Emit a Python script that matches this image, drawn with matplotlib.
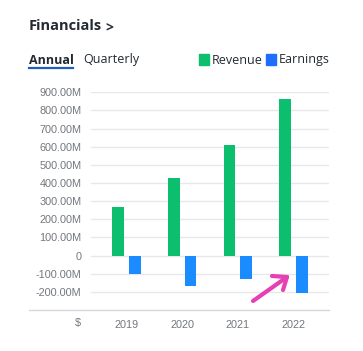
import matplotlib.pyplot as plt
from matplotlib.lines import Line2D
from matplotlib.patches import Rectangle
import numpy as np

W, H = 363, 351

years = ["2019", "2020", "2021", "2022"]
revenue = [270, 426, 608, 863]       # millions
earnings = [-102, -169, -130, -205]  # millions
yticks = [-200, -100, 0, 100, 200, 300, 400, 500, 600, 700, 800, 900]

GREEN = "#0bbf6e"
BLUE = "#1a8cff"
GRID = "#e6e8ec"
TXT = "#232a31"
GREY = "#72777d"

plt.rcParams["font.family"] = ["Open Sans", "DejaVu Sans"]

fig = plt.figure(figsize=(W / 100, H / 100), dpi=100)

def fx(px):
    return px / W

def fy(py):
    return 1 - py / H

ax = fig.add_axes([fx(91), fy(310), fx(329) - fx(91), fy(92.3) - fy(310)])
x = np.arange(len(years))
bw = 0.21
ax.bar(x - 0.15, revenue, width=bw, color=GREEN, zorder=3)
ax.bar(x + 0.15, earnings, width=bw, color=BLUE, zorder=3)
ax.set_xlim(-0.64, 3.64)
ax.set_ylim(-300, 900)
for v in yticks:
    ax.axhline(v, color=GRID, linewidth=1, zorder=1)
ax.set_yticks(yticks)
ax.set_yticklabels(["0" if v == 0 else f"{v:.2f}M" for v in yticks])
ax.set_xticks(x)
ax.set_xticklabels(years)
ax.tick_params(axis="both", length=0, labelsize=7.8, labelcolor=GREY)
ax.tick_params(axis="y", pad=7)
ax.tick_params(axis="x", pad=7)
for lbl in ax.get_xticklabels() + ax.get_yticklabels():
    lbl.set_family("Liberation Sans")
for s in ax.spines.values():
    s.set_visible(False)

# bottom axis line spanning under the labels
fig.add_artist(Line2D([fx(29), fx(329)], [fy(310), fy(310)], color="#d5d8dd", linewidth=1))
fig.text(fx(78), fy(323), "$", ha="center", va="center", fontsize=7.8, color=GREY,
         family="Liberation Sans")

# header
fig.text(fx(29), fy(26), "Financials", ha="left", va="center", fontsize=10.5,
         fontweight="bold", color=TXT)
fig.text(fx(105), fy(27), ">", ha="left", va="center", fontsize=10,
         fontweight="bold", color=TXT)
fig.text(fx(29), fy(60), "Annual", ha="left", va="center", fontsize=9,
         fontweight="bold", color=TXT)
fig.add_artist(Line2D([fx(29), fx(73)], [fy(68), fy(68)], color="#1d5fbf", linewidth=1.6))
fig.text(fx(83), fy(60), "Quarterly", ha="left", va="center", fontsize=9, color=TXT)

# legend
fig.add_artist(Rectangle((fx(199), fy(64.5)), fx(10), fy(54) - fy(64.5), color=GREEN,
                         transform=fig.transFigure))
fig.text(fx(212), fy(60), "Revenue", ha="left", va="center", fontsize=9, color=TXT)
fig.add_artist(Rectangle((fx(266), fy(64.5)), fx(10), fy(54) - fy(64.5), color="#1f6dff",
                         transform=fig.transFigure))
fig.text(fx(279), fy(60), "Earnings", ha="left", va="center", fontsize=9, color=TXT)

# hand-drawn pink arrow
PINK = "#e640b4"
for xs, ys in [([253, 287], [301, 277]), ([272, 287], [276, 277]), ([283, 287], [290, 277])]:
    fig.add_artist(Line2D([fx(v) for v in xs], [fy(v) for v in ys], color=PINK,
                          linewidth=3, solid_capstyle="round"))

fig.savefig("out.png", dpi=100, facecolor="white")
